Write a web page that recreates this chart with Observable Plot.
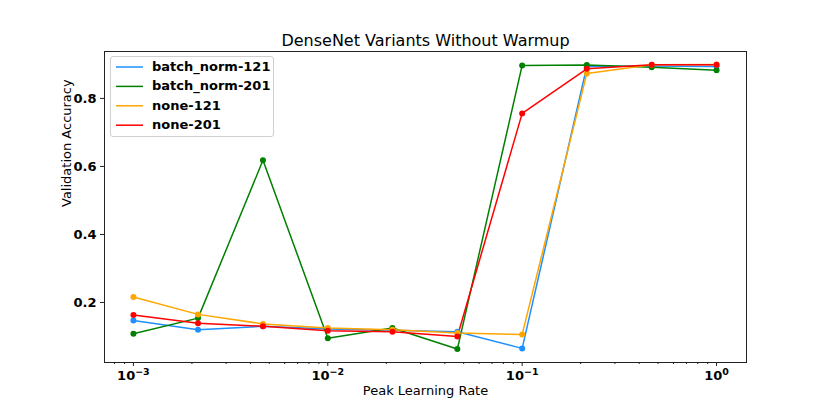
<!DOCTYPE html>
<html><head><meta charset="utf-8">
<script src="https://cdn.jsdelivr.net/npm/d3@7"></script>
<script src="https://cdn.jsdelivr.net/npm/@observablehq/plot@0.6"></script>
<style>
body{margin:0;background:#fff;font-family:"DejaVu Sans",sans-serif;}
#wrap{position:relative;width:830px;height:415px;}
#legend{position:absolute;left:110px;top:56px;width:164px;height:81px;border:1px solid #d0d0d0;border-radius:3px;background:rgba(255,255,255,0.85);box-sizing:border-box;}
#legsvg{position:absolute;left:0;top:0;}
.lab{position:absolute;left:41px;font-weight:bold;font-size:13px;white-space:nowrap;line-height:20px;}
</style></head>
<body><div id="wrap"><div id="legend"></div></div>
<script>
const lrs = [0.001, 0.00215, 0.00464, 0.01, 0.0215, 0.0464, 0.1, 0.215, 0.464, 1.0];
const seriesNames = ["batch_norm-121", "batch_norm-201", "none-121", "none-201"];
const seriesColors = ["#1e90ff", "#008000", "#ffa500", "#ff0000"];
const bn121 = [0.147, 0.120, 0.130, 0.122, 0.118, 0.114, 0.065, 0.894, 0.895, 0.894];
const bn201 = [0.108, 0.154, 0.618, 0.095, 0.125, 0.063, 0.897, 0.898, 0.892, 0.883];
const none121 = [0.216, 0.165, 0.137, 0.125, 0.120, 0.110, 0.106, 0.873, 0.899, 0.900];
const none201 = [0.163, 0.139, 0.130, 0.117, 0.114, 0.100, 0.756, 0.887, 0.899, 0.899];
const xTicks = [0.001, 0.01, 0.1, 1];
const xTickExps = ["\u22123", "\u22122", "\u22121", "0"];
const yTicks = [0.2, 0.4, 0.6, 0.8];
const title = "DenseNet Variants Without Warmup";
const xLabel = "Peak Learning Rate";
const yLabel = "Validation Accuracy";

const allSeries = [bn121, bn201, none121, none201];
const data = [];
allSeries.forEach((vals, i) => vals.forEach((v, j) => data.push({series: seriesNames[i], lr: lrs[j], acc: v})));

const minorTicks = [];
for (let e = -4; e <= 0; e++) for (let m = 2; m <= 9; m++) {
  const v = m * Math.pow(10, e);
  if (v > 0.00071 && v < 1.42) minorTicks.push(v);
}

const chart = Plot.plot({
  width: 830, height: 415,
  marginLeft: 104, marginRight: 84, marginTop: 51, marginBottom: 53,
  style: {fontFamily: "DejaVu Sans, sans-serif", background: "white", color: "black"},
  x: {type: "log", domain: [0.00071, 1.426]},
  y: {domain: [0.0235, 0.938]},
  color: {domain: seriesNames, range: seriesColors},
  marks: [
    Plot.frame({stroke: "#222", strokeWidth: 1}),
    Plot.axisX(minorTicks, {tickSize: 2, text: null, label: null, stroke: "#222"}),
    Plot.axisX(xTicks, {tickSize: 4, tickFormat: d => "10^" + xTickExps[xTicks.indexOf(d)], fontSize: 13, fontWeight: "bold", tickPadding: 4, label: null, stroke: "#222"}),
    Plot.axisY(yTicks, {tickSize: 4, tickFormat: d => d.toFixed(1), fontSize: 13, fontWeight: "bold", tickPadding: 4, label: null, stroke: "#222"}),
    Plot.text([xLabel], {frameAnchor: "bottom", dy: 28, lineAnchor: "middle", fontSize: 13, fill: "black"}),
    Plot.text([yLabel], {frameAnchor: "left", dx: -38, rotate: -90, fontSize: 13, fill: "black"}),
    Plot.text([title], {frameAnchor: "top", dy: -11, lineAnchor: "middle", fontSize: 16, fill: "black"}),
    Plot.line(data, {x: "lr", y: "acc", z: "series", stroke: "series", strokeWidth: 1.5}),
    Plot.dot(data, {x: "lr", y: "acc", fill: "series", r: 3})
  ]
});
const wrap = document.getElementById("wrap");
wrap.insertBefore(chart, wrap.firstChild);

// render exponents as superscripts
d3.select(chart).selectAll("text").each(function() {
  const t = this.textContent;
  if (t.startsWith("10^")) {
    const exp = t.slice(3);
    const sel = d3.select(this);
    sel.text("");
    sel.append("tspan").text("10");
    sel.append("tspan").attr("dy", "-0.45em").attr("font-size", "9.5px").text(exp);
  }
});

const leg = d3.select("#legend");
const lsvg = leg.append("svg").attr("id", "legsvg").attr("width", 40).attr("height", 80);
seriesNames.forEach((n, i) => {
  const top = i * 19.4;
  lsvg.append("line").attr("x1", 5).attr("x2", 32).attr("y1", top + 10).attr("y2", top + 10)
    .attr("stroke", seriesColors[i]).attr("stroke-width", 1.5);
  leg.append("div").attr("class", "lab").style("top", top + "px").text(n);
});
</script></body></html>
